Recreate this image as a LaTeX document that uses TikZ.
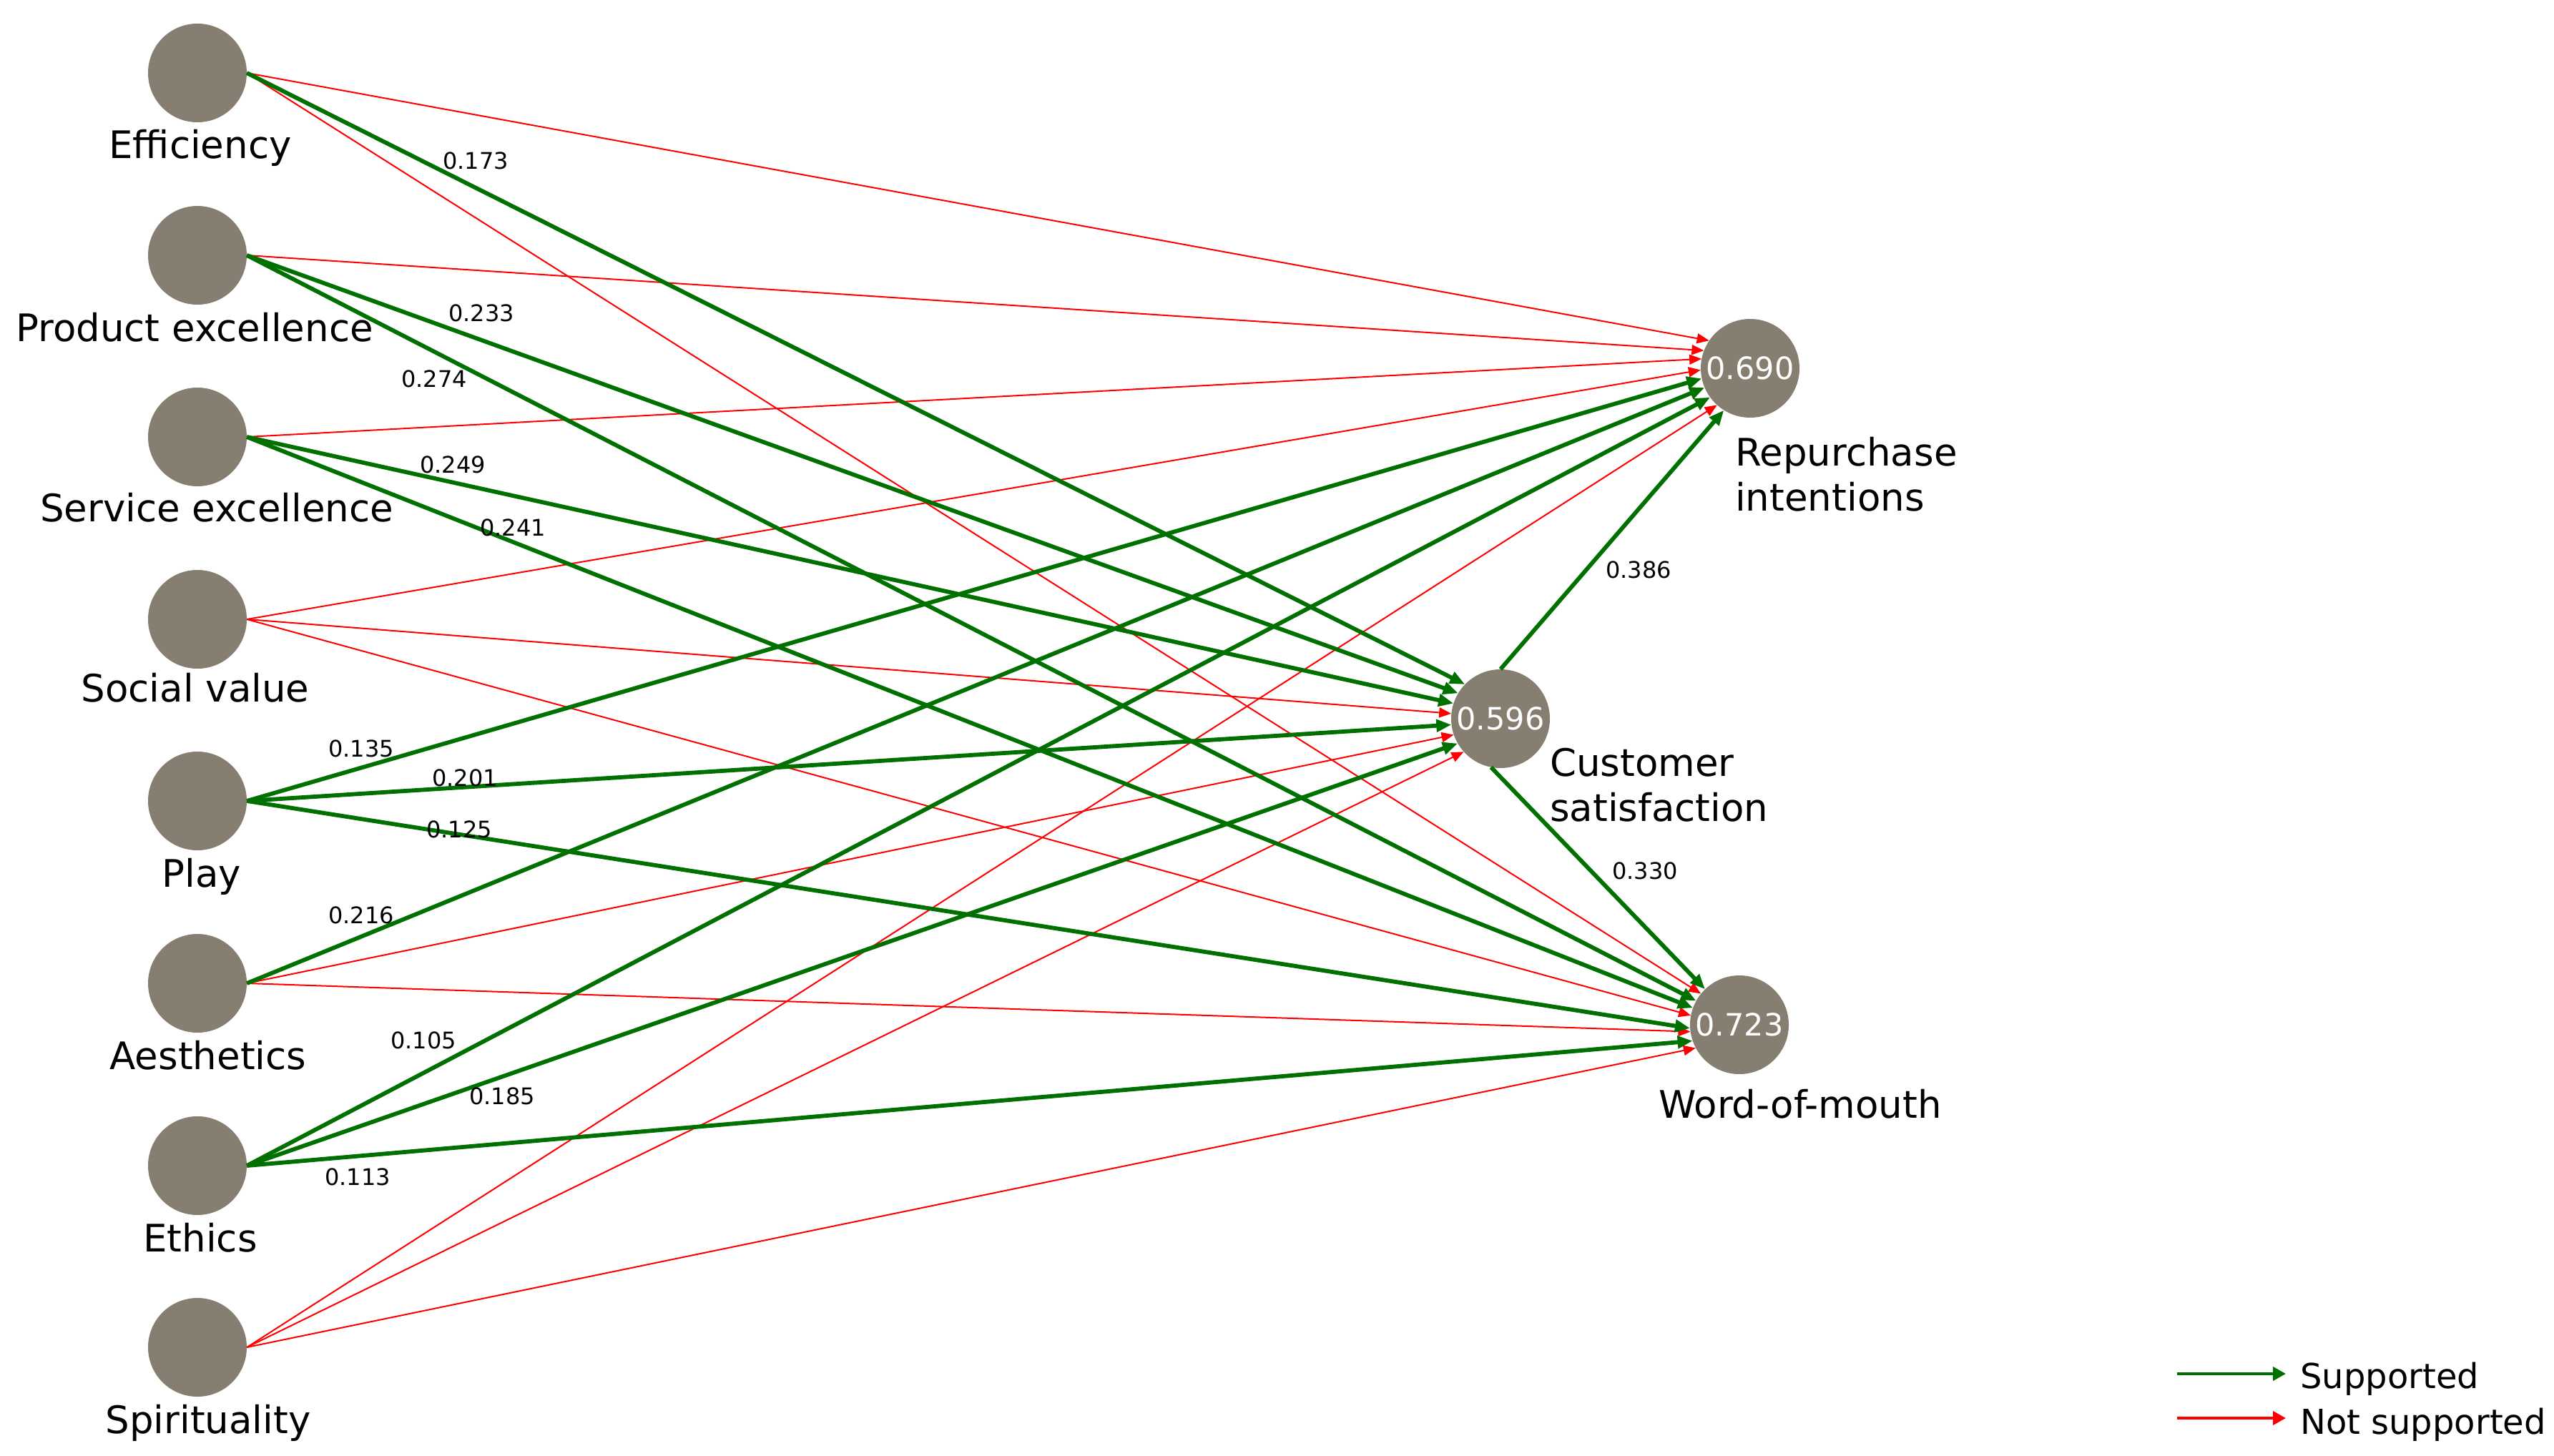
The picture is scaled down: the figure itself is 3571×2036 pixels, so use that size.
\documentclass[tikz,border=0pt]{standalone}
\usepackage{fontspec}
\setmainfont{DejaVu Sans}
\usetikzlibrary{arrows.meta}
\definecolor{nodegray}{RGB}{135,126,114}
\definecolor{okgreen}{RGB}{0,112,0}
\definecolor{nored}{RGB}{255,0,0}
\begin{document}
\begin{tikzpicture}[x=1pt,y=-1pt,
  construct/.style={circle, fill=nodegray, minimum size=138pt, inner sep=0pt,
    text=white, font=\fontsize{43}{43}\selectfont},
  cname/.style={anchor=base, inner sep=0pt, font=\fontsize{53}{63}\selectfont},
  cnamel/.style={anchor=base west, inner sep=0pt, align=left, font=\fontsize{53}{63}\selectfont},
  coef/.style={inner sep=0pt, font=\fontsize{32}{32}\selectfont},
  supported/.style={draw=okgreen, line width=5.8pt, -{Triangle[length=21pt,width=17pt]}},
  notsupported/.style={draw=nored, line width=2pt, -{Triangle[length=17pt,width=14pt]}},
  legendarrow/.style={line width=4pt, -{Triangle[length=18pt,width=19pt]}},
  legendtext/.style={anchor=base west, inner sep=0pt, font=\fontsize{48}{48}\selectfont},
]
\useasboundingbox (0,0) rectangle (3571,2036);

% exogenous constructs
\node[construct] (eff)  at (276,102)  {};
\node[construct] (prod) at (276,357)  {};
\node[construct] (serv) at (276,611)  {};
\node[construct] (soc)  at (276,866)  {};
\node[construct] (play) at (276,1120) {};
\node[construct] (aes)  at (276,1375) {};
\node[construct] (eth)  at (276,1630) {};
\node[construct] (spi)  at (276,1884) {};

\node[cname] (effL)  at (280,222)  {Efficiency};
\node[cname] (prodL) at (272,477)  {Product excellence};
\node[cname] (servL) at (303,729)  {Service excellence};
\node[cname] (socL)  at (273,981)  {Social value};
\node[cname] (playL) at (282,1240) {Play};
\node[cname] (aesL)  at (291,1495) {Aesthetics};
\node[cname] (ethL)  at (280,1750) {Ethics};
\node[cname] (spiL)  at (291,2004) {Spirituality};

% endogenous constructs with R squared
\node[construct] (ri)  at (2447,515)  {0.690};
\node[construct] (cs)  at (2098,1005) {0.596};
\node[construct] (wom) at (2432,1433) {0.723};

% two-line names: the base anchor sits on the last line
\node[cnamel] (riL)  at (2426,714)  {Repurchase\\intentions};
\node[cnamel] (csL)  at (2167,1148) {Customer\\satisfaction};
\node[cname, anchor=base west] (womL) at (2319,1563) {Word-of-mouth};

% paths that are not supported
\draw[notsupported] (eff.east)  -- (ri.146);
\draw[notsupported] (eff.east)  -- (wom.141);
\draw[notsupported] (prod.east) -- (ri.159);
\draw[notsupported] (serv.east) -- (ri.169);
\draw[notsupported] (soc.east)  -- (ri.182);
\draw[notsupported] (soc.east)  -- (cs.174);
\draw[notsupported] (soc.east)  -- (wom.169);
\draw[notsupported] (aes.east)  -- (cs.199);
\draw[notsupported] (aes.east)  -- (wom.188);
\draw[notsupported] (spi.east)  -- (ri.228);
\draw[notsupported] (spi.east)  -- (cs.222);
\draw[notsupported] (spi.east)  -- (wom.208);

% supported paths
\draw[supported] (eff.east)  -- (cs.136);
\draw[supported] (prod.east) -- (cs.149);
\draw[supported] (prod.east) -- (wom.151);
\draw[supported] (serv.east) -- (cs.162);
\draw[supported] (serv.east) -- (wom.160);
\draw[supported] (play.east) -- (ri.192);
\draw[supported] (play.east) -- (cs.187);
\draw[supported] (play.east) -- (wom.184);
\draw[supported] (aes.east)  -- (ri.203);
\draw[supported] (eth.east)  -- (ri.216);
\draw[supported] (eth.east)  -- (cs.210);
\draw[supported] (eth.east)  -- (wom.199);
\draw[supported] (cs.north)  -- (ri.238);
\draw[supported] (cs.259)    -- (wom.134);

% path coefficients
\node[coef] (c1)  at (665,225)  {0.173};
\node[coef] (c2)  at (673,438)  {0.233};
\node[coef] (c3)  at (607,530)  {0.274};
\node[coef] (c4)  at (633,650)  {0.249};
\node[coef] (c5)  at (717,738)  {0.241};
\node[coef] (c6)  at (505,1047) {0.135};
\node[coef] (c7)  at (650,1088) {0.201};
\node[coef] (c8)  at (642,1160) {0.125};
\node[coef] (c9)  at (505,1280) {0.216};
\node[coef] (c10) at (592,1455) {0.105};
\node[coef] (c11) at (702,1533) {0.185};
\node[coef] (c12) at (500,1646) {0.113};
\node[coef] (c13) at (2291,797)  {0.386};
\node[coef] (c14) at (2300,1218) {0.330};

% legend
\coordinate (lgA) at (3044,1921);
\coordinate (lgB) at (3196,1921);
\coordinate (lgC) at (3044,1983);
\coordinate (lgD) at (3196,1983);
\draw[legendarrow, draw=okgreen] (lgA) -- (lgB);
\draw[legendarrow, draw=nored] (lgC) -- (lgD);
\node[legendtext] (lgS) at (3216,1941) {Supported};
\node[legendtext] (lgN) at (3216,2005) {Not supported};
\end{tikzpicture}
\end{document}
